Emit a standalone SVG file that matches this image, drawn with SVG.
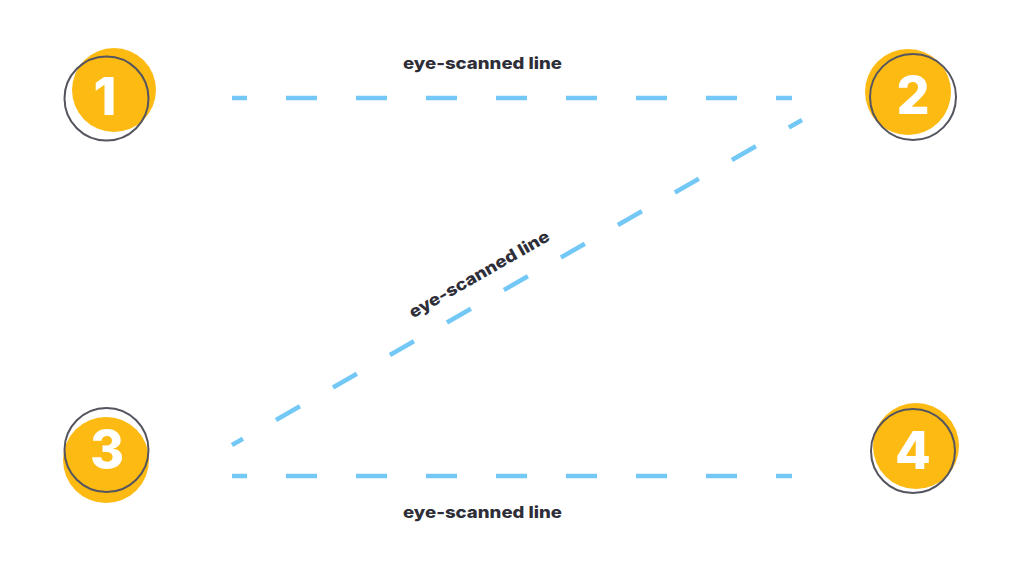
<svg xmlns="http://www.w3.org/2000/svg" width="1024" height="576" viewBox="0 0 1024 576">
  <style>
    .dot { fill: #FCBA13; }
    .ring { fill: none; stroke: #55555F; stroke-width: 2; }
    .num { font-family: Inter, "Liberation Sans", sans-serif; font-weight: 800; font-size: 52px; fill: #ffffff; text-anchor: middle; }
    .lbl { font-family: Inter, "Liberation Sans", sans-serif; font-weight: 800; font-size: 16.5px; fill: #2E2E38; text-anchor: middle; }
    .dash { stroke: #74C8F6; stroke-width: 4.5; fill: none; stroke-linecap: butt; }
  </style>
  <rect width="1024" height="576" fill="#ffffff"/>
  <g id="connectors">
    <line class="dash" x1="232" y1="98" x2="792" y2="98" stroke-dasharray="31 39" stroke-dashoffset="16"/>
    <line class="dash" x1="232" y1="476" x2="792" y2="476" stroke-dasharray="31 39" stroke-dashoffset="16"/>
    <line class="dash" x1="232" y1="445" x2="802" y2="120" stroke-dasharray="27.6 38" stroke-dashoffset="15"/>
    <text class="lbl" x="482.5" y="69" textLength="159" lengthAdjust="spacingAndGlyphs">eye-scanned line</text>
    <text class="lbl" x="482.5" y="518" textLength="159" lengthAdjust="spacingAndGlyphs">eye-scanned line</text>
    <text class="lbl" transform="translate(482,279) rotate(-29.7)" x="0" y="0" textLength="159" lengthAdjust="spacingAndGlyphs">eye-scanned line</text>
  </g>
  <g id="node1">
    <circle class="dot" cx="114" cy="90" r="42"/>
    <circle class="ring" cx="106.5" cy="98.5" r="42"/>
    <text class="num" x="105" y="115">1</text>
  </g>
  <g id="node2">
    <circle class="dot" cx="908" cy="92" r="43"/>
    <circle class="ring" cx="913" cy="97" r="43"/>
    <text class="num" x="913" y="114">2</text>
  </g>
  <g id="node3">
    <circle class="dot" cx="106" cy="460" r="43"/>
    <circle class="ring" cx="106.5" cy="450" r="42"/>
    <text class="num" x="107" y="468">3</text>
  </g>
  <g id="node4">
    <circle class="dot" cx="916" cy="446" r="43"/>
    <circle class="ring" cx="913" cy="451" r="42"/>
    <text class="num" x="913" y="469">4</text>
  </g>
</svg>
